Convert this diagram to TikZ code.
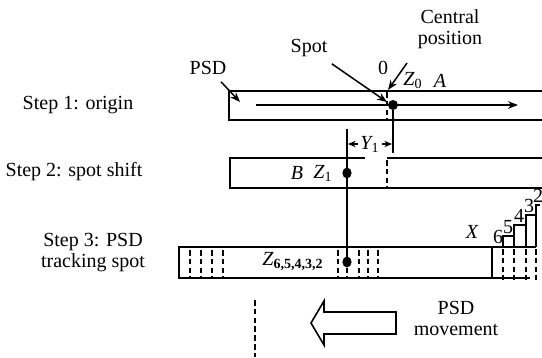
\documentclass[tikz,border=0pt]{standalone}
\usepackage{fontspec}
\setmainfont{Liberation Serif}
\usetikzlibrary{arrows.meta,shapes.geometric}

\begin{document}
\begin{tikzpicture}[
  x=0.5pt, y=-0.5pt,
  font=\fontsize{10}{10.5}\selectfont,
  bar/.style={line width=0.8pt, black},
  guide/.style={line width=0.8pt, dash pattern=on 2.8pt off 1.6pt},
  ptr/.style={-{Stealth[length=5pt,width=3.8pt]}, line width=0.75pt},
  dimptr/.style={-{Stealth[length=3.8pt,width=3.2pt]}, line width=0.75pt},
  spotdot/.style={ellipse, fill=black, inner sep=0pt, minimum width=4.6pt, minimum height=5.4pt},
  tag/.style={font=\fontsize{10}{11}\selectfont\itshape, inner sep=1pt},
  digit/.style={font=\fontsize{10}{11}\selectfont, inner sep=0.5pt},
  steplbl/.style={align=center},
]
  \useasboundingbox (0,0) rectangle (542,358);

  % step captions
  \node[steplbl] (lab1) at (78,105) {Step 1: origin};
  \node[steplbl] (lab2) at (74,172) {Step 2: spot shift};
  \node[steplbl] (lab3) at (93,253) {Step 3: PSD\\ tracking spot};

  % Step 1: origin
  \draw[bar] (542,91) -- (229,91) -- (229,120) -- (542,120);
  \draw[guide] (387,92) -- (387,120);
  \coordinate (trackl) at (256,105);
  \coordinate (trackr) at (518,105);
  \draw[ptr] (trackl) -- (trackr);
  \node[spotdot, minimum width=5pt, minimum height=5pt] (s1) at (393,105) {};
  \node (psd) at (208,68) {PSD};
  \coordinate (psdtip) at (240,102);
  \draw[ptr] (psd) -- (psdtip);
  \node (spot) at (309,48) {Spot};
  \coordinate (spottip) at (387,102);
  \draw[ptr] (spot) -- (spottip);
  \node (zero) at (383,68) {0};
  \node[align=center] (cpos) at (450,29) {Central\\ position};
  \coordinate (cptail) at (407,63);
  \coordinate (cptip) at (388,90);
  \draw[ptr] (cptail) -- (cptip);
  \node[tag] (z0) at (413,81) {Z\textsubscript{\upshape 0}};
  \node[tag] (a) at (440,81) {A};

  % Step 2: spot shift
  \draw[bar] (365,158) -- (230,158) -- (230,188) -- (542,188);
  \draw[bar] (387,158) -- (542,158);
  \draw[guide] (387,160) -- (387,188);
  \coordinate (s1low) at (393,153);
  \draw[bar] (s1) -- (s1low);
  \coordinate (shifttop) at (347,129);
  \node[spotdot] (s2) at (347,173) {};
  \node[spotdot] (s3) at (347,262) {};
  \draw[bar] (shifttop) -- (s3.center);
  \node[tag] (y1) at (370,144) {Y\textsubscript{\upshape 1}};
  \coordinate (y1l) at (348,144);
  \coordinate (y1r) at (392,144);
  \draw[dimptr] (y1) -- (y1l);
  \draw[dimptr] (y1) -- (y1r);
  \node[tag] (b) at (297,173) {B};
  \node[tag] (z1) at (323,173) {Z\textsubscript{\upshape 1}};

  % Step 3: PSD tracking spot
  \draw[bar] (492,247) -- (179,247) -- (179,278) -- (530,278);
  \draw[bar] (492,247) -- (492,278);
  \draw[bar] (492,247) -- (536,247);
  \draw[bar] (503,247) -- (503,236) -- (514,236) -- (514,225) -- (526,225)
    -- (526,215) -- (536,215) -- (536,205) -- (540,205);
  \draw[bar] (514,236) -- (514,247);
  \draw[bar] (526,225) -- (526,247);
  \draw[bar] (536,215) -- (536,247);
  \foreach \gx in {190,201,212,223,338,347,359,368,378}
    \draw[guide] (\gx,250) -- (\gx,278);
  \foreach \gx in {503,514,526,536}
    \draw[guide] (\gx,249) -- (\gx,280);
  \node[tag] (z6) at (293,262) {Z\textsubscript{\upshape\bfseries 6,5,4,3,2}};
  \node[tag] (x) at (472,232) {X};
  \node[digit] (n6) at (498,237) {6};
  \node[digit] (n5) at (508,227) {5};
  \node[digit] (n4) at (519,216) {4};
  \node[digit] (n3) at (529,206) {3};
  \node[digit] (n2) at (538,196) {2};

  % PSD movement
  \draw[bar] (396,312) -- (324,312) -- (324,301) -- (311,323) -- (324,345)
    -- (324,334) -- (396,334) -- cycle;
  \node[align=center] (move) at (456,318) {PSD\\ movement};
  \draw[guide] (255,300) -- (255,357);
\end{tikzpicture}
\end{document}
